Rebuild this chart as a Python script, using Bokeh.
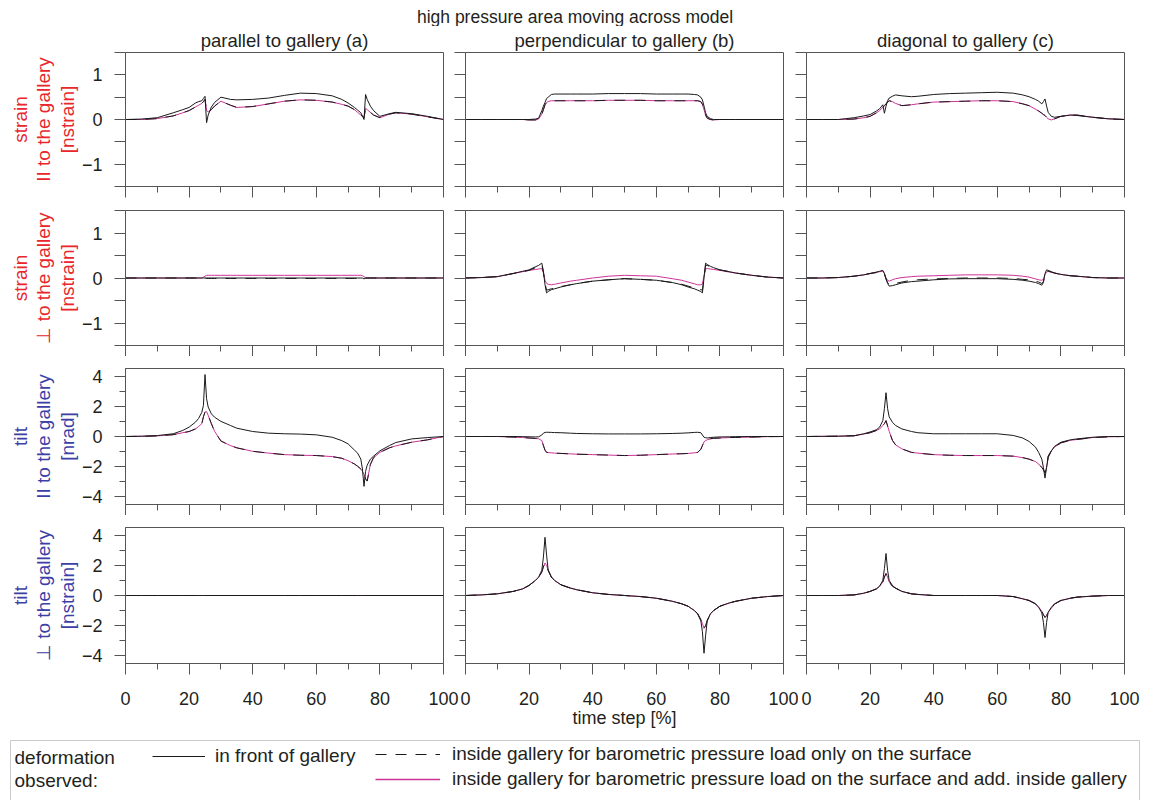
from bokeh.plotting import figure
from bokeh.models import Range1d, FixedTicker, Title, Legend, LegendItem, Label, BoxAnnotation
from bokeh.layouts import column, row
from bokeh.embed import file_html
from bokeh.resources import INLINE

# ---------------- data ----------------
X = [0, 5, 10, 15, 18, 20, 22, 23, 24, 24.5, 25, 25.5, 26, 27, 28, 30, 33, 35, 40, 45,
     50, 55, 60, 65, 68, 70, 72, 73, 74, 74.5, 75, 75.5, 76, 77, 78, 80, 83, 85, 90, 95, 100]

X_MAJOR = [0, 20, 40, 60, 80, 100]
X_MINOR = [10, 30, 50, 70, 90]
X_TICK_LABELS = ["0", "20", "40", "60", "80", "100"]

COL_TITLES = ["parallel to gallery (a)", "perpendicular to gallery (b)", "diagonal to gallery (c)"]
ROW_LABELS = [["strain", "II to the gallery", "[nstrain]"],
              ["strain", "\u22a5 to the gallery", "[nstrain]"],
              ["tilt", "II to the gallery", "[nrad]"],
              ["tilt", "\u22a5 to the gallery", "[nstrain]"]]

# row 1: strain parallel to gallery
A1_FRONT = [0, 0.01, 0.04, 0.15, 0.22, 0.27, 0.37, 0.4, 0.42, 0.47,
            0.52, -0.07, 0.1, 0.28, 0.38, 0.5, 0.45, 0.44, 0.45, 0.48,
            0.54, 0.59, 0.58, 0.53, 0.45, 0.37, 0.27, 0.21, 0.15, 0.08,
            0.0, 0.56, 0.45, 0.3, 0.2, 0.07, 0.13, 0.16, 0.13, 0.07, 0]
A1_ADD = [0, 0.0, 0.02, 0.08, 0.15, 0.2, 0.28, 0.32, 0.36, 0.4,
          0.45, 0.2, 0.17, 0.22, 0.3, 0.41, 0.32, 0.27, 0.29, 0.35,
          0.41, 0.44, 0.43, 0.39, 0.34, 0.3, 0.22, 0.16, 0.1, 0.07,
          0.04, 0.25, 0.22, 0.16, 0.1, 0.04, 0.12, 0.15, 0.12, 0.06, 0]
A1_SURF = A1_ADD

B1_FRONT = [0, 0, 0, 0, 0, 0, 0.01, 0.03, 0.2, 0.3,
            0.38, 0.47, 0.5, 0.56, 0.57, 0.57, 0.57, 0.57, 0.57, 0.58,
            0.58, 0.58, 0.57, 0.57, 0.57, 0.57, 0.56, 0.55, 0.5, 0.44,
            0.3, 0.15, 0.07, 0.02, 0.0, 0, 0, 0, 0, 0, 0]
B1_ADD = [0, 0, 0, 0, 0, -0.01, -0.01, 0.01, 0.12, 0.22,
          0.33, 0.38, 0.4, 0.42, 0.42, 0.42, 0.42, 0.42, 0.42, 0.43,
          0.43, 0.43, 0.42, 0.42, 0.42, 0.42, 0.42, 0.42, 0.4, 0.34,
          0.22, 0.1, 0.03, 0.0, -0.01, 0, 0, 0, 0, 0, 0]
B1_SURF = B1_ADD

C1_FRONT = [0, 0, 0, 0.04, 0.08, 0.11, 0.19, 0.24, 0.33, 0.14,
            0.3, 0.42, 0.48, 0.52, 0.55, 0.53, 0.51, 0.52, 0.56, 0.58,
            0.59, 0.6, 0.61, 0.59, 0.55, 0.51, 0.45, 0.41, 0.35, 0.4,
            0.46, 0.3, 0.16, 0.07, 0.05, 0.07, 0.1, 0.09, 0.05, 0.015, 0]
C1_ADD = [0, 0, 0, 0.01, 0.04, 0.07, 0.15, 0.2, 0.27, 0.31,
          0.35, 0.39, 0.42, 0.4, 0.36, 0.31, 0.33, 0.35, 0.39, 0.4,
          0.41, 0.42, 0.42, 0.4, 0.35, 0.31, 0.23, 0.19, 0.14, 0.11,
          0.09, 0.05, 0.015, -0.01, 0.015, 0.07, 0.1, 0.1, 0.05, 0.015, 0]
C1_SURF = C1_ADD

# row 2: strain perpendicular to gallery
A2_FRONT = [0, 0, 0, 0, 0, 0, 0, 0, 0, 0,
            0, 0, 0, 0, 0, 0, 0, 0, 0, 0,
            0, 0, 0, 0, 0, 0, 0, 0, 0, 0,
            -0.02, 0, 0, 0, 0, 0, 0, 0, 0, 0, 0]
A2_SURF = [0, 0, 0, 0, 0, 0, 0, 0, 0, 0,
           0, -0.01, -0.01, -0.01, -0.01, -0.01, -0.01, -0.01, -0.01, -0.01,
           -0.01, -0.01, -0.01, -0.01, -0.01, -0.01, -0.01, -0.01, -0.01, -0.01,
           0, 0, 0, 0, 0, 0, 0, 0, 0, 0, 0]
A2_ADD = [0, 0, 0, 0, 0, 0, 0, 0, 0, 0.02,
          0.04, 0.06, 0.06, 0.06, 0.06, 0.06, 0.06, 0.06, 0.06, 0.06,
          0.06, 0.06, 0.06, 0.06, 0.06, 0.06, 0.06, 0.06, 0.06, 0.05,
          0.03, 0, 0, 0, 0, 0, 0, 0, 0, 0, 0]

B2_FRONT = [0, 0.01, 0.03, 0.1, 0.15, 0.18, 0.25, 0.28, 0.33, 0.15,
            -0.15, -0.33, -0.3, -0.26, -0.24, -0.2, -0.15, -0.125, -0.07, -0.04,
            -0.015, -0.03, -0.05, -0.1, -0.15, -0.2, -0.24, -0.27, -0.3, -0.33,
            0.0, 0.33, 0.3, 0.26, 0.23, 0.18, 0.14, 0.11, 0.06, 0.02, 0]
B2_SURF = [0, 0.01, 0.03, 0.1, 0.14, 0.17, 0.23, 0.26, 0.3, 0.12,
           -0.12, -0.27, -0.26, -0.24, -0.22, -0.19, -0.15, -0.12, -0.07, -0.04,
           -0.015, -0.03, -0.05, -0.1, -0.14, -0.18, -0.22, -0.24, -0.26, -0.27,
           0.0, 0.28, 0.28, 0.25, 0.22, 0.18, 0.14, 0.11, 0.06, 0.02, 0]
B2_ADD = [0, 0.01, 0.03, 0.1, 0.14, 0.17, 0.19, 0.2, 0.21, 0.12,
          -0.05, -0.12, -0.14, -0.15, -0.14, -0.11, -0.07, -0.05, 0.0, 0.04,
          0.06, 0.05, 0.04, -0.015, -0.05, -0.09, -0.13, -0.15, -0.15, -0.13,
          0.05, 0.2, 0.21, 0.2, 0.19, 0.17, 0.13, 0.11, 0.06, 0.02, 0]

C2_FRONT = [0, 0, 0.01, 0.04, 0.07, 0.1, 0.13, 0.15, 0.17, 0.1,
            -0.02, -0.12, -0.18, -0.17, -0.15, -0.11, -0.08, -0.07, -0.04, -0.02,
            -0.015, -0.015, -0.015, -0.03, -0.05, -0.07, -0.1, -0.125, -0.16, -0.1,
            0.1, 0.18, 0.17, 0.14, 0.11, 0.08, 0.05, 0.04, 0.01, 0.0, 0]
C2_SURF = [0, 0, 0.01, 0.04, 0.07, 0.1, 0.12, 0.14, 0.15, 0.09,
           -0.02, -0.1, -0.15, -0.13, -0.12, -0.09, -0.05, -0.04, -0.02, -0.01,
           0.0, 0.0, 0.0, -0.01, -0.03, -0.04, -0.07, -0.09, -0.12, -0.08,
           0.08, 0.15, 0.15, 0.13, 0.11, 0.08, 0.05, 0.04, 0.01, 0.0, 0]
C2_ADD = [0, 0, 0.01, 0.04, 0.07, 0.1, 0.13, 0.14, 0.15, 0.1,
          0.0, -0.05, -0.07, -0.04, -0.015, 0.01, 0.03, 0.04, 0.05, 0.06,
          0.07, 0.07, 0.07, 0.06, 0.04, 0.02, -0.02, -0.04, -0.05, -0.03,
          0.08, 0.13, 0.15, 0.13, 0.11, 0.08, 0.05, 0.04, 0.01, 0.0, 0]

# row 3: tilt parallel to gallery
A3_FRONT = [0, 0.02, 0.06, 0.18, 0.4, 0.62, 0.95, 1.2, 1.6, 2.05,
            4.1, 2.5, 1.95, 1.5, 1.28, 1.0, 0.73, 0.55, 0.33, 0.22,
            0.18, 0.16, 0.11, -0.05, -0.27, -0.49, -0.9, -1.1, -1.5, -2.15,
            -3.3, -2.3, -1.9, -1.5, -1.3, -0.95, -0.6, -0.4, -0.16, -0.07, 0]
A3_ADD = [0, 0.01, 0.04, 0.12, 0.25, 0.33, 0.5, 0.66, 0.85, 1.3,
          1.62, 1.65, 1.4, 0.85, 0.35, -0.3, -0.6, -0.75, -0.98, -1.1,
          -1.2, -1.24, -1.26, -1.33, -1.44, -1.6, -1.82, -1.97, -2.15, -2.3,
          -2.5, -2.8, -2.95, -1.85, -1.4, -1.05, -0.75, -0.62, -0.38, -0.22, 0]
A3_SURF = A3_ADD

B3_FRONT = [0, 0, 0, 0, -0.01, -0.02, -0.03, -0.02, 0.1, 0.22,
            0.27, 0.28, 0.28, 0.27, 0.26, 0.25, 0.22, 0.2, 0.18, 0.17,
            0.17, 0.17, 0.18, 0.2, 0.22, 0.24, 0.27, 0.28, 0.25, 0.1,
            -0.05, -0.08, -0.1, -0.07, -0.05, -0.03, -0.02, -0.01, 0, 0, 0]
B3_ADD = [0, 0, 0, -0.04, -0.07, -0.1, -0.13, -0.15, -0.27, -0.6,
          -0.9, -1.05, -1.06, -1.08, -1.1, -1.12, -1.15, -1.17, -1.2, -1.23,
          -1.26, -1.24, -1.2, -1.16, -1.14, -1.12, -1.08, -1.05, -0.85, -0.6,
          -0.35, -0.27, -0.22, -0.15, -0.12, -0.1, -0.07, -0.06, -0.04, -0.01, 0]
B3_SURF = B3_ADD

C3_FRONT = [0, 0.01, 0.02, 0.05, 0.18, 0.3, 0.45, 0.62, 1.05, 1.85,
            2.9, 1.85, 1.3, 0.95, 0.73, 0.5, 0.33, 0.25, 0.18, 0.18,
            0.18, 0.18, 0.18, 0.07, -0.1, -0.33, -0.7, -1.05, -1.5, -2.05,
            -2.75, -2.05, -1.4, -0.95, -0.65, -0.38, -0.22, -0.16, -0.05, 0.0, 0]
C3_ADD = [0, 0.01, 0.02, 0.05, 0.16, 0.25, 0.4, 0.5, 0.73, 0.85,
          1.05, 0.7, 0.35, -0.25, -0.55, -0.82, -1.05, -1.1, -1.2, -1.24,
          -1.26, -1.26, -1.26, -1.3, -1.4, -1.5, -1.66, -1.82, -2.05, -2.2,
          -2.4, -2.05, -1.3, -0.95, -0.7, -0.42, -0.25, -0.2, -0.07, -0.02, 0]
C3_SURF = C3_ADD

# row 4: tilt perpendicular to gallery
A4_FRONT = [0, 0, 0, 0, 0, 0, 0, 0, 0, 0,
            0, 0, 0, 0, 0, 0, 0, 0, 0, 0,
            0, 0, 0, 0, 0, 0, 0, 0, 0, 0,
            0, 0, 0, 0, 0, 0, 0, 0, 0, 0, 0]
A4_ADD = A4_FRONT
A4_SURF = A4_FRONT

B4_FRONT = [0, 0.04, 0.11, 0.27, 0.44, 0.67, 1.0, 1.22, 1.67, 2.55,
            3.85, 2.67, 1.67, 1.22, 1.0, 0.71, 0.49, 0.38, 0.18, 0.07,
            0.0, -0.07, -0.18, -0.38, -0.55, -0.71, -1.0, -1.22, -1.67, -2.4,
            -3.82, -2.67, -1.67, -1.22, -1.0, -0.71, -0.49, -0.38, -0.18, -0.07, 0]
B4_ADD = [0, 0.04, 0.11, 0.27, 0.44, 0.67, 1.0, 1.2, 1.55, 1.9,
          2.15, 2.0, 1.67, 1.22, 1.0, 0.71, 0.49, 0.38, 0.18, 0.07,
          0.0, -0.07, -0.18, -0.38, -0.55, -0.71, -1.0, -1.2, -1.6, -1.85,
          -2.18, -2.0, -1.67, -1.22, -1.0, -0.71, -0.49, -0.38, -0.18, -0.07, 0]
B4_SURF = B4_ADD

C4_FRONT = [0, 0, 0, 0.04, 0.15, 0.27, 0.44, 0.62, 1.0, 1.78,
            2.78, 1.67, 1.0, 0.67, 0.49, 0.27, 0.11, 0.07, 0.0, 0.0,
            0.0, 0.0, 0.0, -0.07, -0.22, -0.33, -0.55, -0.78, -1.15, -1.78,
            -2.78, -1.78, -1.11, -0.78, -0.55, -0.33, -0.18, -0.11, -0.04, 0.0, 0]
C4_ADD = [0, 0, 0, 0.04, 0.15, 0.27, 0.44, 0.6, 0.9, 1.22,
          1.45, 1.22, 0.9, 0.62, 0.49, 0.27, 0.11, 0.07, 0.0, 0.0,
          0.0, 0.0, 0.0, -0.07, -0.22, -0.33, -0.55, -0.76, -1.05, -1.27,
          -1.45, -1.33, -1.11, -0.84, -0.57, -0.33, -0.18, -0.11, -0.04, 0.0, 0]
C4_SURF = C4_ADD

PANELS = [[(A1_FRONT, A1_SURF, A1_ADD), (B1_FRONT, B1_SURF, B1_ADD), (C1_FRONT, C1_SURF, C1_ADD)],
          [(A2_FRONT, A2_SURF, A2_ADD), (B2_FRONT, B2_SURF, B2_ADD), (C2_FRONT, C2_SURF, C2_ADD)],
          [(A3_FRONT, A3_SURF, A3_ADD), (B3_FRONT, B3_SURF, B3_ADD), (C3_FRONT, C3_SURF, C3_ADD)],
          [(A4_FRONT, A4_SURF, A4_ADD), (B4_FRONT, B4_SURF, B4_ADD), (C4_FRONT, C4_SURF, C4_ADD)]]

LEGEND_LABELS = ["in front of gallery",
                 "inside gallery for barometric pressure load only on the surface",
                 "inside gallery for barometric pressure load on the surface and add. inside gallery"]

# ---------------- style ----------------
FONT = "Liberation Sans"
FRAME_C = "#555555"
TXT = "#231f20"
RED = "#e8262b"
BLUE = "#3c3fa6"
MAG = "#cc3399"
BLK = "#1a1a1a"
DASH = "11 9"
NAN = float("nan")

FW = 318
LEFT = [125, 11, 12]
RIGHT = [11, 11, 25]
TOP = [25, 12, 12, 12]
BOT = [12, 11, 11, 12]
FH = [135, 135, 136, 136]
YR = [(-1.5, 1.5), (-1.5, 1.5), (-4.5, 4.5), (-4.5, 4.5)]
Y_MAJOR = [[-1, 0, 1], [-1, 0, 1], [-4, -2, 0, 2, 4], [-4, -2, 0, 2, 4]]
Y_MINOR = [[-1.5, -0.5, 0.5, 1.5], [-1.5, -0.5, 0.5, 1.5], [-3, -1, 1, 3], [-3, -1, 1, 3]]
Y_MINOR_LEN = [11, 11, 6, 6]
LABEL_COL = [RED, RED, BLUE, BLUE]


def panel(r, c):
    front, surf, add = PANELS[r][c]
    p = figure(width=LEFT[c] + FW + RIGHT[c], height=TOP[r] + FH[r] + BOT[r],
               x_range=Range1d(0, 100), y_range=Range1d(*YR[r]),
               output_backend="svg", toolbar_location=None,
               min_border_left=LEFT[c], min_border_right=RIGHT[c],
               min_border_top=TOP[r], min_border_bottom=BOT[r])
    p.grid.visible = False
    p.outline_line_color = FRAME_C
    p.outline_line_width = 1
    p.background_fill_color = "white"
    p.border_fill_color = "white"

    xa = p.xaxis[0]
    xa.ticker = FixedTicker(ticks=X_MAJOR, minor_ticks=X_MINOR)
    xa.major_tick_out = 11
    xa.major_tick_in = 0
    xa.minor_tick_out = 6
    xa.minor_tick_in = 0
    xa.axis_line_color = FRAME_C
    xa.major_tick_line_color = FRAME_C
    xa.minor_tick_line_color = FRAME_C
    xa.major_label_text_color = None
    xa.major_label_standoff = 0

    ya = p.yaxis[0]
    ya.ticker = FixedTicker(ticks=Y_MAJOR[r], minor_ticks=Y_MINOR[r])
    ya.major_tick_out = 11
    ya.major_tick_in = 0
    ya.minor_tick_out = Y_MINOR_LEN[r]
    ya.minor_tick_in = 0
    ya.axis_line_color = FRAME_C
    ya.major_tick_line_color = FRAME_C
    ya.minor_tick_line_color = FRAME_C
    if c == 0:
        ya.major_label_text_font = FONT
        ya.major_label_text_font_size = "18px"
        ya.major_label_text_color = TXT
        ya.major_label_standoff = 12
        lines = ROW_LABELS[r]
        standoffs = [2, 0, 0]
        for txt, so in zip(reversed(lines), standoffs):
            p.add_layout(Title(text=txt, align="center", text_font=FONT, text_font_size="19px",
                               text_font_style="normal", text_color=LABEL_COL[r], standoff=so), "left")
    else:
        ya.major_label_text_color = None
        ya.major_label_standoff = 0

    if r == 0:
        p.add_layout(Title(text=COL_TITLES[c], align="center", text_font=FONT,
                           text_font_size="18.5px", text_font_style="normal",
                           text_color=TXT, standoff=3), "above")

    p.line(X, add, line_color=MAG, line_width=1)
    p.line(X, surf, line_color=BLK, line_width=1, line_dash=DASH)
    p.line(X, front, line_color=BLK, line_width=1)
    return p


def label_fig(c):
    L5 = [125, 6, 8]
    R5 = [16, 15, 25]
    p = figure(width=L5[c] + FW + R5[c], height=63, x_range=Range1d(0, 100), y_range=Range1d(0, 1),
               output_backend="svg", toolbar_location=None, y_axis_location=None,
               min_border_left=L5[c], min_border_right=R5[c], min_border_top=0, min_border_bottom=62)
    p.grid.visible = False
    p.outline_line_color = None
    xa = p.xaxis[0]
    xa.ticker = FixedTicker(ticks=X_MAJOR, minor_ticks=[])
    xa.major_label_overrides = {t: s for t, s in zip(X_MAJOR, X_TICK_LABELS)}
    xa.major_tick_out = 0
    xa.major_tick_in = 0
    xa.minor_tick_out = 0
    xa.minor_tick_in = 0
    xa.axis_line_color = None
    xa.major_tick_line_color = None
    xa.minor_tick_line_color = None
    xa.major_label_text_font = FONT
    xa.major_label_text_font_size = "18px"
    xa.major_label_text_color = TXT
    xa.major_label_standoff = 15
    if c == 1:
        xa.axis_label = "time step [%]"
        xa.axis_label_text_font = FONT
        xa.axis_label_text_font_size = "18px"
        xa.axis_label_text_font_style = "normal"
        xa.axis_label_text_color = TXT
        xa.axis_label_standoff = 0
    return p


# header
hdr = figure(width=1149, height=26, x_range=Range1d(0, 1149), y_range=Range1d(0, 26),
             output_backend="svg", toolbar_location=None, min_border=0,
             x_axis_location=None, y_axis_location=None, outline_line_color=None)
hdr.grid.visible = False
hdr.add_layout(Label(x=574.5, y=10, text="high pressure area moving across model", text_align="center",
                     text_baseline="middle", text_font=FONT, text_font_size="17.5px", text_color=TXT))

rows = [row(*[panel(r, c) for c in range(3)]) for r in range(4)]
lab_row = row(*[label_fig(c) for c in range(3)])

# legend box
leg = figure(width=1149, height=62, x_range=Range1d(0, 1149), y_range=Range1d(0, 62),
             output_backend="svg", toolbar_location=None, min_border=0,
             x_axis_location=None, y_axis_location=None, outline_line_color=None)
leg.grid.visible = False
leg.add_layout(BoxAnnotation(left=10, right=1139, top=60, bottom=-20, fill_color=None,
                             line_color=FRAME_C, line_width=1))
# legend-only renderers: NaN values draw nothing inside the box
r_front = leg.line(x=[NAN, NAN], y=[NAN, NAN], line_color=BLK, line_width=1)
r_surf = leg.line(x=[NAN, NAN], y=[NAN, NAN], line_color=BLK, line_width=1, line_dash=DASH)
r_add = leg.line(x=[NAN, NAN], y=[NAN, NAN], line_color=MAG, line_width=1.3)
common = dict(orientation="vertical", glyph_height=20, label_height=20, label_text_font=FONT,
              label_text_font_size="19px", label_text_color=TXT, padding=0, margin=0, spacing=3,
              border_line_color=None, background_fill_alpha=0)
leg.add_layout(Legend(items=[LegendItem(label=LEGEND_LABELS[0], renderers=[r_front])],
                      location=(152, 33), glyph_width=53, label_standoff=10, **common))
leg.add_layout(Legend(items=[LegendItem(label=LEGEND_LABELS[1], renderers=[r_surf]),
                             LegendItem(label=LEGEND_LABELS[2], renderers=[r_add])],
                      location=(375, 10), glyph_width=65, label_standoff=12, **common))
leg.add_layout(Label(x=14, y=43, text="deformation", text_baseline="middle", text_font=FONT,
                     text_font_size="19px", text_color=TXT))
leg.add_layout(Label(x=14, y=20, text="observed:", text_baseline="middle", text_font=FONT,
                     text_font_size="19px", text_color=TXT))

layout = column(hdr, *rows, lab_row, leg)
open("out.html", "w").write(file_html(layout, INLINE))
